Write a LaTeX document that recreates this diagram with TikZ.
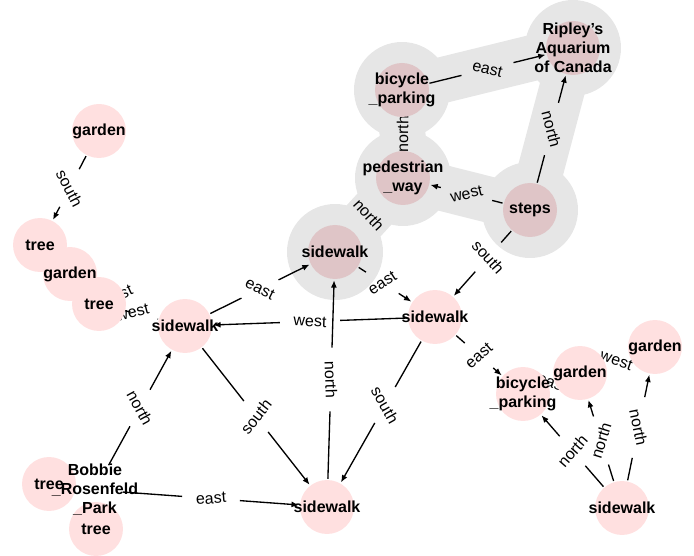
\documentclass[tikz,border=0pt]{standalone}
\usepackage{fontspec}
\setmainfont{Liberation Sans}
\usepackage{tikz}
\usetikzlibrary{arrows.meta}
\pgfdeclarelayer{halo}
\pgfdeclarelayer{edges}
\pgfdeclarelayer{discs}
\pgfsetlayers{halo,edges,discs,main}

\begin{document}
\begin{tikzpicture}[x=0.75pt,y=0.75pt,yscale=-1,xscale=1,
  spot/.style={circle,minimum size=42pt,inner sep=0pt,label={[word]center:#1}},
  word/.style={font=\bfseries\fontsize{12}{14.25}\selectfont,align=center,inner sep=0pt},
  dirn/.style={font=\fontsize{12}{14}\selectfont,inner sep=1pt,sloped},
  edge/.style={line width=1pt},
  lead/.style={edge,shorten >=9pt},
  arc/.style={edge,shorten <=9pt,-{Latex[length=5.5pt,width=4.5pt]}},
  disc/.style={fill={rgb, 255:red, 255; green, 224; blue, 224}},
  hot/.style={fill={rgb, 255:red, 223; green, 197; blue, 199}},
  halo/.style={color={rgb, 255:red, 230; green, 230; blue, 230}}
]
\useasboundingbox (0,0) rectangle (694,556);

% Text Node
\node[spot={garden}] (gd1) at (99,131) {};
\node[spot={tree}] (tr2) at (40,245) {};
\node[spot={garden}] (gd3) at (70,274) {};
\node[spot={tree}] (tr4) at (99,304) {};
\node[spot={sidewalk}] (sw5) at (185,326) {};
\node[spot={sidewalk}] (sw6) at (335,252) {};
\node[spot={pedestrian\\\_way}] (pw7) at (403,178) {};
\node[spot={bicycle\\\_parking}] (bp8) at (402,90) {};
\node[spot={Ripley’s\\Aquarium\\of Canada}] (aq9) at (573,48) {};
\node[spot={steps}] (st10) at (530,210) {};
\node[spot={sidewalk}] (sw11) at (435,317) {};
\node[spot={bicycle\\\_parking}] (bp12) at (523,394) {};
\node[spot={garden}] (gd13) at (580,373) {};
\node[spot={garden}] (gd14) at (655,347) {};
\node[spot={sidewalk}] (sw15) at (622,508) {};
\node[spot={sidewalk}] (sw16) at (327,507) {};
\node[spot={Bobbie\\\_Rosenfeld\\\_Park}] (bk17) at (95,490) {};
\node[spot={tree}] (tr18) at (49,484) {};
\node[spot={tree}] (tr19) at (96,529) {};

%Shape: Halo
\begin{pgfonlayer}{halo}
\draw[halo,line width=34.5pt,line join=round] (sw6.center) -- (pw7.center) -- (bp8.center) -- (aq9.center) -- (st10.center) -- (pw7.center);
\foreach \n in {sw6,pw7,bp8,aq9,st10}
  \fill[halo] (\n) circle (36pt);
\end{pgfonlayer}

%Shape: Circle
\begin{pgfonlayer}{discs}
\foreach \n in {gd1,tr2,gd3,tr4,sw5,sw11,bp12,gd13,gd14,sw15,sw16,tr18,tr19}
  \fill[disc] (\n) circle (20.25pt);
\foreach \n in {sw6,pw7,bp8,aq9,st10}
  \fill[hot] (\n) circle (20.25pt);
\end{pgfonlayer}

\begin{pgfonlayer}{edges}
%Straight Lines
\path (gd1) -- node[dirn] (e1) {south} (tr2);
\draw[lead] (gd1) -- (e1); \draw[arc] (e1) -- (tr2);
%Straight Lines
\path (sw5) -- node[dirn,pos=0.8] (e2) {west} (tr4);
\draw[lead] (sw5) -- (e2); \draw[arc] (e2) -- (tr4);
%Straight Lines (hidden under the discs)
\path (gd3) -- node[dirn,pos=0.35] (e3) {east} (sw5);
%Straight Lines
\path (sw5) -- node[dirn] (e4) {east} (sw6);
\draw[lead] (sw5) -- (e4); \draw[arc] (e4) -- (sw6);
%Straight Lines
\path (sw11) -- node[dirn] (e5) {west} (sw5);
\draw[lead] (sw11) -- (e5); \draw[arc] (e5) -- (sw5);
%Straight Lines
\path (sw5) -- node[dirn] (e6) {south} (sw16);
\draw[lead] (sw5) -- (e6); \draw[arc] (e6) -- (sw16);
%Straight Lines
\path (bk17) -- node[dirn] (e7) {north} (sw5);
\draw[lead] (bk17) -- (e7); \draw[arc] (e7) -- (sw5);
%Straight Lines
\path (bk17) -- node[dirn] (e8) {east} (sw16);
\draw[lead] (bk17) -- (e8); \draw[arc] (e8) -- (sw16);
%Straight Lines
\path (sw16) -- node[dirn] (e9) {north} (sw6);
\draw[lead] (sw16) -- (e9); \draw[arc] (e9) -- (sw6);
%Straight Lines
\path (sw11) -- node[dirn,pos=0.45] (e10) {south} (sw16);
\draw[lead] (sw11) -- (e10); \draw[arc] (e10) -- (sw16);
%Straight Lines
\path (sw6) -- node[dirn,pos=0.45] (e11) {east} (sw11);
\draw[lead] (sw6) -- (e11); \draw[arc] (e11) -- (sw11);
%Straight Lines
\path (st10) -- node[dirn,pos=0.4] (e12) {south} (sw11);
\draw[lead] (st10) -- (e12); \draw[arc] (e12) -- (sw11);
%Straight Lines (too short to show)
\path (sw6) -- node[dirn] (e13) {north} (pw7);
%Straight Lines (too short to show)
\path (pw7) -- node[dirn] (e14) {north} (bp8);
%Straight Lines
\path (bp8) -- node[dirn] (e15) {east} (aq9);
\draw[lead] (bp8) -- (e15); \draw[arc] (e15) -- (aq9);
%Straight Lines
\path (st10) -- node[dirn] (e16) {west} (pw7);
\draw[lead] (st10) -- (e16); \draw[arc] (e16) -- (pw7);
%Straight Lines
\path (st10) -- node[dirn] (e17) {north} (aq9);
\draw[lead] (st10) -- (e17); \draw[arc] (e17) -- (aq9);
%Straight Lines
\path (sw11) -- node[dirn] (e18) {east} (bp12);
\draw[lead] (sw11) -- (e18); \draw[arc] (e18) -- (bp12);
%Straight Lines
\path (sw15) -- node[dirn] (e19) {north} (bp12);
\draw[lead] (sw15) -- (e19); \draw[arc] (e19) -- (bp12);
%Straight Lines
\path (sw15) -- node[dirn] (e20) {north} (gd13);
\draw[lead] (sw15) -- (e20); \draw[arc] (e20) -- (gd13);
%Straight Lines
\path (sw15) -- node[dirn] (e21) {north} (gd14);
\draw[lead] (sw15) -- (e21); \draw[arc] (e21) -- (gd14);
%Straight Lines (too short to show)
\path (bp12) -- node[dirn,pos=0.7] (e22) {east} (gd13);
%Straight Lines (too short to show)
\path (gd14) -- node[dirn,pos=0.55] (e23) {west} (gd13);
\end{pgfonlayer}
\end{tikzpicture}
\end{document}
